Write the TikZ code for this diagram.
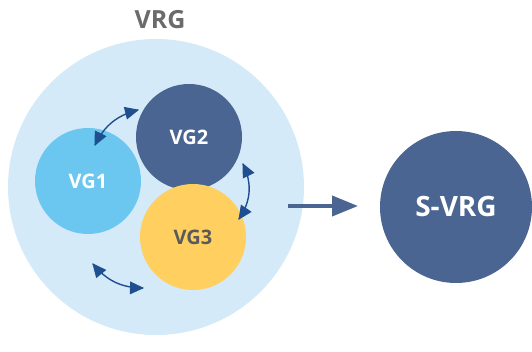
\documentclass[tikz,border=0pt]{standalone}
\usepackage{fontspec}
\setmainfont{Open Sans}
\usetikzlibrary{arrows.meta,decorations.markings}
\definecolor{bgblue}{HTML}{D4EAF9}
\definecolor{navy}{HTML}{4A6591}
\definecolor{sky}{HTML}{6CC7F0}
\definecolor{sun}{HTML}{FFCF5F}
\definecolor{darkarrow}{HTML}{1F4F8F}
\definecolor{txtgray}{HTML}{5A5A5A}
\tikzset{
  disc/.style={circle,inner sep=0pt,font=\bfseries},
  dblarrow/.style={draw=darkarrow,line width=1.4pt,
    postaction={decorate},
    decoration={markings,
      mark=at position 0 with {\fill[darkarrow] (-1pt,0pt) -- (13pt,6.5pt) -- (13pt,-6.5pt) -- cycle;},
      mark=at position 1 with {\fill[darkarrow] (1pt,0pt) -- (-13pt,6.5pt) -- (-13pt,-6.5pt) -- cycle;}}}}
\begin{document}
\begin{tikzpicture}[x=1pt,y=-1pt]
\useasboundingbox (0,0) rectangle (532,352);
\node[disc,fill=bgblue,minimum size=296pt] (vrg) at (156,187) {};
\node[font=\bfseries\fontsize{25}{28}\selectfont,text=txtgray!90] (lbl) at (160,20) {VRG};
\node[disc,fill=navy,minimum size=106pt,text=white,font=\bfseries\fontsize{20}{22}\selectfont] (vg2) at (189,137) {VG2};
\node[disc,fill=sky,minimum size=106pt,text=white,font=\bfseries\fontsize{20}{22}\selectfont] (vg1) at (88,181) {VG1};
\node[disc,fill=sun,minimum size=106pt,text=txtgray,font=\bfseries\fontsize{20}{22}\selectfont] (vg3) at (193,237) {VG3};
\node[disc,fill=navy,minimum size=152pt,text=white,font=\bfseries\fontsize{28}{30}\selectfont] (svrg) at (456,207) {S-VRG};
\coordinate (a1) at (95,145); \coordinate (a2) at (138,110);
\coordinate (b1) at (243,164); \coordinate (b2) at (239,219);
\coordinate (c1) at (93,264); \coordinate (c2) at (143,288);
\draw[dblarrow] (a1) to[bend left=25] (a2);
\draw[dblarrow] (b1) to[bend left=30] (b2);
\draw[dblarrow] (c1) to[bend right=25] (c2);
\coordinate (m1) at (288,206); \coordinate (m2) at (358,206);
\draw[navy,line width=4pt,-{Triangle[length=26pt,width=20pt]}] (m1) -- (m2);
\end{tikzpicture}
\end{document}
